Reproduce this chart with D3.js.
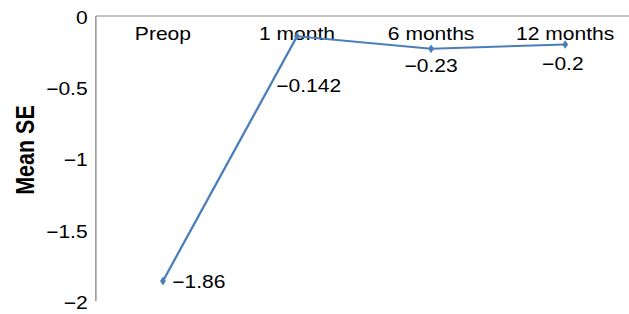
<!DOCTYPE html>
<html>
<head>
<meta charset="utf-8">
<script src="https://cdn.jsdelivr.net/npm/d3@7"></script>
<style>
  html, body { margin: 0; padding: 0; background: #fff; }
  text { font-family: Arial, "Liberation Sans", sans-serif; fill: #000; }
</style>
</head>
<body>
<div class="chart"></div>
<script>
const categories = ["Preop", "1 month", "6 months", "12 months"];
const meanSE = [-1.86, -0.142, -0.23, -0.2];
const valueLabels = ["\u22121.86", "\u22120.142", "\u22120.23", "\u22120.2"];
const yTicks = [0, -0.5, -1, -1.5, -2];
const yTickLabels = ["0", "\u22120.5", "\u22121", "\u22121.5", "\u22122"];

// label placement: [dx, dy, anchor]
const labelShift = [[8, 0, "start"], [10, 49, "middle"], [0, 17, "middle"], [-2, 19, "middle"]];

function drawChart() {
  const width = 629;
  const height = 314;
  // the original is stretched horizontally, so draw in a narrower box
  const vbWidth = 538;
  const axisX = 82;

  const svg = d3.select(".chart").append("svg")
    .attr("width", width)
    .attr("height", height)
    .attr("viewBox", `0 0 ${vbWidth} ${height}`)
    .attr("preserveAspectRatio", "none");

  const xScale = d3.scaleBand()
    .domain(categories)
    .range([axisX, axisX + 4 * 114.7]);

  const yScale = d3.scaleLinear()
    .domain([0, -2])
    .range([16, 301]);

  const xPos = d => xScale(d) + xScale.bandwidth() / 2;

  // axis lines
  svg.append("line")
    .attr("x1", axisX).attr("x2", vbWidth)
    .attr("y1", yScale(0)).attr("y2", yScale(0))
    .attr("stroke", "#8c8c8c").attr("stroke-width", 1.2);
  svg.append("line")
    .attr("x1", axisX).attr("x2", axisX)
    .attr("y1", yScale(0)).attr("y2", yScale(-2))
    .attr("stroke", "#8c8c8c").attr("stroke-width", 1.2);

  // y tick labels
  svg.selectAll(".ytick")
    .data(yTicks)
    .enter()
    .append("text")
      .attr("x", axisX - 7)
      .attr("y", d => yScale(d) + 8)
      .attr("text-anchor", "end")
      .style("font-size", "18px")
      .text((d, i) => yTickLabels[i]);

  // category labels along the top axis
  svg.selectAll(".xtick")
    .data(categories)
    .enter()
    .append("text")
      .attr("x", d => xPos(d))
      .attr("y", 40)
      .attr("text-anchor", "middle")
      .style("font-size", "18px")
      .text(d => d);

  // axis title
  svg.append("text")
    .attr("transform", `translate(29.5, 150) rotate(-90)`)
    .attr("text-anchor", "middle")
    .style("font-size", "21.5px")
    .style("font-weight", "bold")
    .text("Mean SE");

  const line = d3.line()
    .x((d, i) => xPos(categories[i]))
    .y(d => yScale(d));

  svg.append("path")
    .attr("fill", "none")
    .attr("stroke", "#4a7ebb")
    .attr("stroke-width", 2)
    .attr("d", line(meanSE));

  // diamond markers
  svg.selectAll(".marker")
    .data(meanSE)
    .enter()
    .append("path")
      .attr("d", d3.symbol(d3.symbolDiamond, 22))
      .attr("transform", (d, i) => `translate(${xPos(categories[i])}, ${yScale(d)})`)
      .attr("fill", "#4a7ebb");

  // value labels
  svg.selectAll(".vlabel")
    .data(meanSE)
    .enter()
    .append("text")
      .attr("x", (d, i) => xPos(categories[i]) + labelShift[i][0])
      .attr("y", (d, i) => yScale(d) + labelShift[i][1] + 6.5)
      .attr("text-anchor", (d, i) => labelShift[i][2])
      .style("font-size", "18px")
      .text((d, i) => valueLabels[i]);
}

drawChart();
</script>
</body>
</html>
